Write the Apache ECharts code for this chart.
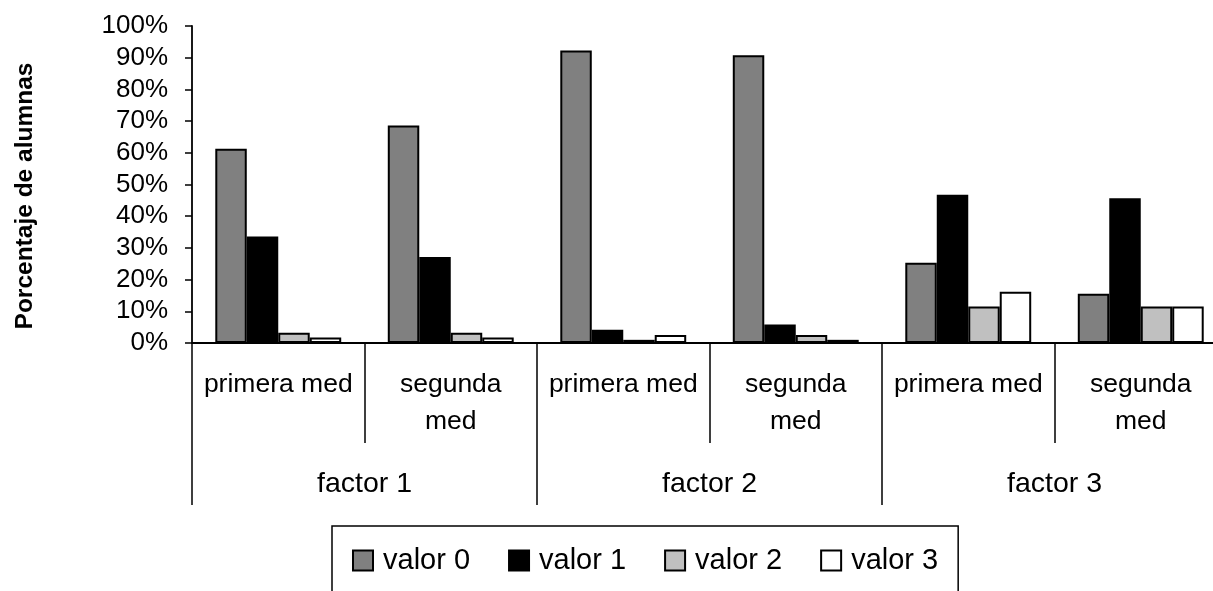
<!DOCTYPE html>
<html>
<head>
<meta charset="utf-8">
<script src="https://cdn.jsdelivr.net/npm/echarts@6/dist/echarts.min.js"></script>
<style>
html,body{margin:0;padding:0;background:#fff;}
#chart{width:1213px;height:591px;}
</style>
</head>
<body>
<div id="chart"></div>
<script>
var subCategories = ['primera med', 'segunda\nmed', 'primera med', 'segunda\nmed', 'primera med', 'segunda\nmed'];
var factorCategories = ['factor 1', 'factor 2', 'factor 3'];
var seriesNames = ['valor 0', 'valor 1', 'valor 2', 'valor 3'];
var valor0 = [61.3, 68.6, 92.3, 90.8, 25.3, 15.5];
var valor1 = [33.6, 27.1, 4.2, 5.8, 46.8, 45.7];
var valor2 = [3.2, 3.2, 1.0, 2.5, 11.5, 11.5];
var valor3 = [1.7, 1.7, 2.5, 1.0, 16.2, 11.5];
var yTicks = { min: 0, max: 100, interval: 10 };
var yTitle = 'Porcentaje de alumnas';

var FONT = '"Liberation Sans", Arial, Helvetica, sans-serif';
var colors = ['#808080', '#000000', '#c0c0c0', '#ffffff'];
var values = [valor0, valor1, valor2, valor3];

var chart = echarts.init(document.getElementById('chart'), null, { renderer: 'canvas' });

var series = seriesNames.map(function (name, i) {
  return {
    name: name,
    type: 'bar',
    xAxisIndex: 0,
    yAxisIndex: 0,
    data: values[i],
    barGap: '0%',
    barCategoryGap: '27%',
    itemStyle: { color: colors[i], borderColor: '#000', borderWidth: 2 },
    emphasis: { disabled: true },
    animation: false
  };
});

chart.setOption({
  animation: false,
  backgroundColor: '#fff',
  textStyle: { fontFamily: FONT, color: '#000' },
  grid: { left: 192, top: 26, right: -14, bottom: 248, containLabel: false, outerBoundsMode: 'none' },
  xAxis: [
    {
      type: 'category',
      position: 'bottom',
      data: subCategories,
      axisLine: { show: true, lineStyle: { color: '#000', width: 1.8 } },
      axisTick: { show: true, alignWithLabel: false, interval: 0, length: 100, lineStyle: { color: '#000', width: 1.5 } },
      axisLabel: { interval: 0, margin: 23, fontSize: 26.5, lineHeight: 37, color: '#000', fontFamily: FONT, align: 'center' },
      splitLine: { show: false }
    },
    {
      type: 'category',
      position: 'bottom',
      data: factorCategories,
      axisLine: { show: false },
      axisTick: { show: true, interval: 0, length: 162, lineStyle: { color: '#000', width: 1.5 } },
      axisLabel: { interval: 0, margin: 127, fontSize: 28.5, lineHeight: 28.5, color: '#000', fontFamily: FONT },
      splitLine: { show: false }
    }
  ],
  yAxis: {
    type: 'value',
    min: yTicks.min,
    max: yTicks.max,
    interval: yTicks.interval,
    axisLine: { show: true, lineStyle: { color: '#000', width: 1.8 } },
    axisTick: { show: true, inside: false, length: 7, lineStyle: { color: '#000', width: 1.5 } },
    axisLabel: { formatter: '{value}%', fontSize: 26, margin: 24, color: '#000', fontFamily: FONT },
    splitLine: { show: false }
  },
  legend: {
    data: seriesNames,
    left: 332,
    top: 526,
    orient: 'horizontal',
    padding: [20, 20, 30, 20],
    borderColor: '#000',
    borderWidth: 1.5,
    itemWidth: 20,
    itemHeight: 20,
    itemGap: 38,
    icon: 'rect',
    selectedMode: false,
    textStyle: { fontSize: 29, color: '#000', fontFamily: FONT, padding: [0, 0, 0, 5] }
  },
  graphic: [
    {
      type: 'text',
      x: 25,
      y: 196,
      rotation: Math.PI / 2,
      style: {
        text: yTitle,
        fontFamily: FONT,
        fontSize: 24.5,
        fontWeight: 'bold',
        fill: '#000',
        textAlign: 'center',
        textVerticalAlign: 'middle'
      }
    }
  ],
  series: series
});
</script>
</body>
</html>
